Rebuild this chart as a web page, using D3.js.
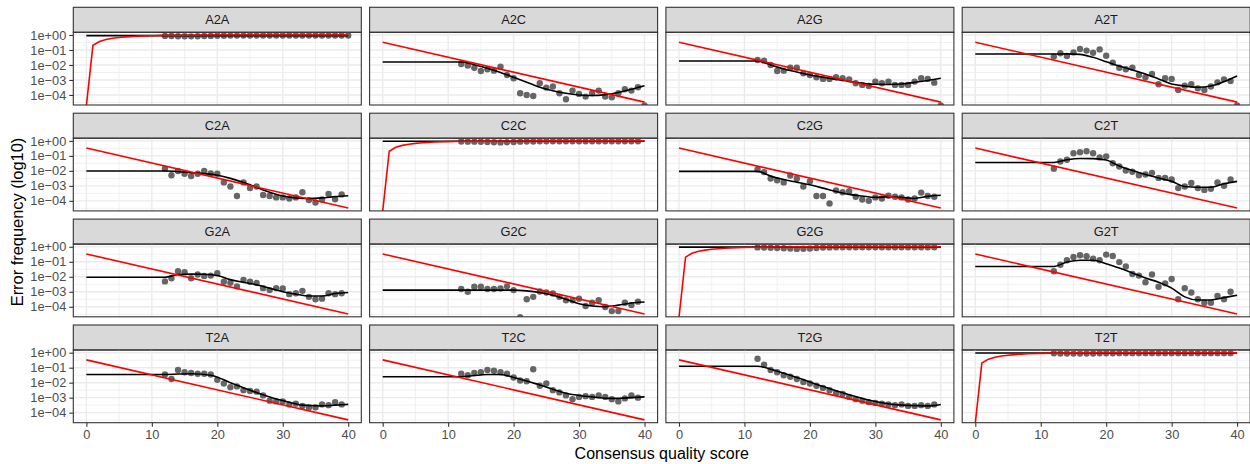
<!DOCTYPE html>
<html>
<head>
<meta charset="utf-8">
<script src="https://cdn.jsdelivr.net/npm/d3@7"></script>
<style>
  body { margin: 0; background: #fff; }
  svg { display: block; font-family: "Liberation Sans", Arial, Helvetica, sans-serif; }
</style>
</head>
<body>
<div id="chart"></div>
<script>
// transitions, in facet order
const panels = ["A2A", "A2C", "A2G", "A2T",
                "C2A", "C2C", "C2G", "C2T",
                "G2A", "G2C", "G2G", "G2T",
                "T2A", "T2C", "T2G", "T2T"];

const firstQ = 12;                       // observed points start at this quality score
const xTicks = [0, 10, 20, 30, 40];
const yTicks = [1, 1e-1, 1e-2, 1e-3, 1e-4];

// all rates below are log10(error frequency); -Infinity means a zero count
// nominal (red) rate implied by the quality score
const nominalOff = [[0, -0.48], [40, -4.48]];
const nominalDiag = [[0, -Infinity], [1, -0.69], [2, -0.43], [3, -0.30], [4, -0.22], [5, -0.165],
                     [6, -0.126], [7, -0.097], [8, -0.075], [10, -0.046], [12, -0.028], [15, -0.014],
                     [20, -0.004], [25, -0.0014], [30, -0.0004], [40, 0]];

// observed (grey points), q = 12, 13, ...
const obsA2A = [-0.06, -0.07, -0.08, -0.08, -0.09, -0.08, -0.07, -0.06, -0.05, -0.05, -0.04, -0.04, -0.04, -0.03, -0.03,
                -0.03, -0.03, -0.03, -0.03, -0.03, -0.03, -0.03, -0.03, -0.03, -0.03, -0.03, -0.03, -0.03, -0.03];
const obsA2C = [-1.93, -2.04, -2.18, -2.40, -2.29, -2.38, -2.11, -2.67, -2.89, -3.89, -4.00, -4.07, -3.22, -3.51, -3.44,
                -3.89, -4.29, -3.71, -3.93, -4.11, -3.89, -3.71, -4.11, -4.16, -3.89, -3.62, -3.71, -3.49, -Infinity];
const obsA2G = [-1.67, -1.71, -2.00, -2.40, -2.38, -2.18, -2.18, -2.56, -2.67, -2.82, -2.93, -2.93, -2.82, -2.89, -2.96,
                -3.22, -3.33, -3.40, -3.11, -3.22, -3.11, -3.33, -3.33, -3.33, -3.11, -2.89, -2.93, -3.18, -Infinity];
const obsA2T = [-1.44, -1.22, -1.40, -1.16, -0.93, -1.04, -1.18, -0.96, -1.38, -1.84, -2.18, -2.29, -2.18, -2.67, -2.82,
                -2.60, -3.29, -2.89, -2.93, -3.67, -3.38, -3.29, -3.56, -3.67, -3.44, -3.16, -2.96, -3.07, -Infinity];
const obsC2A = [-1.85, -2.29, -2.01, -2.19, -2.35, -2.19, -2.01, -2.17, -2.19, -2.77, -3.04, -3.68, -2.77, -3.15, -3.04,
                -3.61, -3.68, -3.77, -3.77, -3.84, -3.77, -3.43, -3.95, -4.11, -3.91, -3.54, -3.89, -3.57];
const obsC2C = [-0.04, -0.05, -0.05, -0.06, -0.07, -0.09, -0.10, -0.09, -0.07, -0.05, -0.04, -0.04, -0.03, -0.03,
                -0.03, -0.03, -0.03, -0.03, -0.03, -0.03, -0.03, -0.03, -0.03, -0.03, -0.03, -0.03, -0.03, -0.03];
const obsC2G = [-1.90, -2.08, -2.51, -2.63, -2.77, -2.31, -2.51, -3.04, -2.70, -3.68, -3.68, -4.18, -3.31, -3.43, -3.36,
                -3.73, -3.91, -4.00, -3.77, -3.84, -3.66, -3.73, -3.77, -3.91, -3.84, -3.45, -3.68, -3.73];
const obsC2T = [-1.85, -1.37, -1.26, -0.82, -0.75, -0.69, -0.82, -1.10, -1.03, -1.49, -1.71, -1.97, -2.06, -2.29, -2.24,
                -2.13, -2.47, -2.47, -2.58, -3.15, -3.04, -2.81, -3.15, -3.27, -3.20, -2.77, -2.99, -2.58];
const obsG2A = [-2.31, -2.10, -1.63, -1.69, -2.10, -1.85, -1.94, -1.92, -1.76, -2.33, -2.40, -2.64, -2.21, -2.33, -2.42,
                -2.76, -2.89, -2.76, -2.78, -3.16, -3.10, -2.94, -3.34, -3.50, -3.46, -3.10, -3.16, -3.10];
const obsG2C = [-2.82, -3.00, -2.67, -2.67, -2.82, -2.82, -2.78, -2.64, -2.89, -Infinity, -3.50, -3.34, -2.98, -3.05, -3.12,
                -3.34, -3.57, -3.57, -3.46, -3.95, -3.73, -3.57, -4.02, -4.29, -4.29, -3.73, -3.89, -3.66];
const obsG2G = [-0.04, -0.05, -0.06, -0.08, -0.10, -0.12, -0.14, -0.13, -0.11, -0.08, -0.05, -0.04, -0.03, -0.03,
                -0.03, -0.03, -0.03, -0.03, -0.03, -0.03, -0.03, -0.03, -0.03, -0.03, -0.03, -0.03, -0.03, -0.03];
const obsG2T = [-1.63, -1.20, -0.90, -0.68, -0.56, -0.63, -0.79, -0.90, -0.52, -0.61, -1.02, -1.31, -1.81, -1.92, -2.37,
                -1.85, -2.67, -2.44, -2.15, -3.50, -2.76, -3.05, -3.50, -3.73, -3.73, -3.28, -3.50, -3.00];
const obsT2A = [-1.45, -1.75, -1.15, -1.30, -1.35, -1.40, -1.40, -1.45, -1.80, -2.05, -2.30, -2.25, -2.50, -2.55, -2.60,
                -2.85, -3.20, -3.25, -3.25, -3.45, -3.40, -3.55, -3.65, -3.65, -3.45, -3.50, -3.30, -3.45];
const obsT2C = [-1.40, -1.50, -1.35, -1.30, -1.15, -1.20, -1.30, -1.40, -1.65, -1.85, -1.90, -1.10, -2.20, -2.05, -2.50,
                -2.65, -2.85, -3.10, -2.95, -2.90, -2.95, -2.85, -2.95, -3.10, -3.25, -3.05, -2.85, -3.00];
const obsT2G = [-0.40, -0.80, -1.15, -1.30, -1.50, -1.60, -1.75, -1.95, -2.05, -2.20, -2.35, -2.50, -2.70, -2.75, -2.95,
                -3.10, -3.20, -3.30, -3.35, -3.40, -3.45, -3.50, -3.45, -3.55, -3.55, -3.50, -3.55, -3.45];
const obsT2T = [-0.04, -0.05, -0.05, -0.06, -0.06, -0.05, -0.05, -0.04, -0.04, -0.04, -0.03, -0.03, -0.03, -0.03,
                -0.03, -0.03, -0.03, -0.03, -0.03, -0.03, -0.03, -0.03, -0.03, -0.03, -0.03, -0.03, -0.03, -0.03];

// fitted (black) rates, [q, log10 rate]
const fitA2A = [[0, -0.04], [40, -0.04]];
const fitA2C = [[0, -1.80], [12, -1.80], [14, -1.98], [16, -2.22], [18, -2.50], [20, -2.82], [22, -3.15], [24, -3.49],
                [26, -3.72], [28, -3.89], [30, -4.00], [32, -4.04], [34, -3.98], [36, -3.84], [38, -3.62], [40, -3.38]];
const fitA2G = [[0, -1.73], [12, -1.73], [14, -2.00], [16, -2.27], [18, -2.47], [20, -2.67], [22, -2.82], [24, -2.96],
                [26, -3.10], [28, -3.22], [30, -3.29], [32, -3.30], [34, -3.27], [36, -3.16], [38, -3.04], [40, -2.89]];
const fitA2T = [[0, -1.27], [12, -1.27], [14, -1.26], [16, -1.29], [18, -1.49], [20, -1.78], [22, -2.07], [24, -2.33],
                [26, -2.60], [28, -2.93], [30, -3.27], [32, -3.40], [34, -3.49], [36, -3.40], [38, -3.11], [40, -2.73]];
const fitC2A = [[0, -2.01], [12, -2.01], [16, -2.12], [20, -2.29], [22, -2.50], [25, -2.93], [27, -3.27], [30, -3.68],
                [32, -3.80], [34, -3.84], [36, -3.80], [38, -3.72], [40, -3.66]];
const fitC2C = [[0, -0.02], [40, -0.02]];
const fitC2G = [[0, -2.03], [12, -2.03], [14, -2.35], [16, -2.58], [18, -2.75], [20, -2.93], [22, -3.15], [24, -3.38],
                [26, -3.57], [28, -3.68], [30, -3.77], [32, -3.73], [34, -3.77], [36, -3.84], [38, -3.70], [40, -3.63]];
const fitC2T = [[0, -1.44], [12, -1.44], [14, -1.26], [16, -1.17], [18, -1.18], [20, -1.28], [22, -1.67], [24, -1.97],
                [26, -2.24], [28, -2.47], [30, -2.70], [32, -3.04], [34, -3.09], [36, -3.09], [38, -2.86], [40, -2.70]];
const fitG2A = [[0, -2.03], [12, -2.03], [14, -1.85], [16, -1.82], [18, -1.83], [20, -1.92], [22, -2.19], [24, -2.37],
                [26, -2.53], [28, -2.76], [30, -3.00], [32, -3.16], [34, -3.28], [36, -3.28], [38, -3.12], [40, -3.05]];
const fitG2C = [[0, -2.89], [20, -2.89], [22, -2.94], [24, -3.05], [26, -3.23], [28, -3.50], [30, -3.80], [32, -3.95],
                [34, -4.00], [36, -3.89], [38, -3.75], [40, -3.68]];
const fitG2G = [[0, -0.02], [40, -0.02]];
const fitG2T = [[0, -1.31], [12, -1.31], [14, -1.02], [16, -0.90], [18, -0.90], [20, -1.13], [22, -1.42], [24, -1.74],
                [26, -2.08], [28, -2.37], [30, -2.76], [32, -3.34], [34, -3.55], [36, -3.55], [38, -3.39], [40, -3.23]];
const fitT2A = [[0, -1.45], [12, -1.45], [16, -1.40], [19, -1.50], [22, -2.00], [25, -2.50], [28, -2.95], [31, -3.30],
                [33, -3.50], [36, -3.55], [38, -3.50], [40, -3.45]];
const fitT2C = [[0, -1.60], [12, -1.60], [16, -1.45], [18, -1.45], [20, -1.65], [24, -2.15], [28, -2.70], [32, -2.95],
                [35, -3.05], [38, -3.00], [40, -2.95]];
const fitT2G = [[0, -0.90], [12, -0.90], [14, -1.10], [18, -1.65], [22, -2.25], [26, -2.80], [30, -3.25], [34, -3.50],
                [38, -3.55], [40, -3.45]];
const fitT2T = [[0, -0.02], [40, -0.02]];

const observed = {A2A: obsA2A, A2C: obsA2C, A2G: obsA2G, A2T: obsA2T, C2A: obsC2A, C2C: obsC2C, C2G: obsC2G, C2T: obsC2T,
                  G2A: obsG2A, G2C: obsG2C, G2G: obsG2G, G2T: obsG2T, T2A: obsT2A, T2C: obsT2C, T2G: obsT2G, T2T: obsT2T};
const fitted = {A2A: fitA2A, A2C: fitA2C, A2G: fitA2G, A2T: fitA2T, C2A: fitC2A, C2C: fitC2C, C2G: fitC2G, C2T: fitC2T,
                G2A: fitG2A, G2C: fitG2C, G2G: fitG2G, G2T: fitG2T, T2A: fitT2A, T2C: fitT2C, T2G: fitT2G, T2T: fitT2T};

// layout
const width = 1250, height = 464;
const marginLeft = 73.3, colStep = 296.3, panelW = 288;
const marginTop = 7.3, rowStep = 105.9, stripH = 25, panelH = 72.7;

const svg = d3.select("#chart").append("svg")
    .attr("width", width)
    .attr("height", height);

const x = d3.scaleLinear().domain([-2, 42]).range([0, panelW]);
const y = d3.scaleLog().domain([10 ** -4.67, 10 ** 0.18]).range([panelH, 0]);
// zero rates sit on the lower panel edge, like -Inf in ggplot
const yPos = v => v === -Infinity ? panelH + 0.5 : y(10 ** v);

const line = d3.line()
    .x(d => x(d[0]))
    .y(d => yPos(d[1]));
const smooth = d3.line()
    .x(d => x(d[0]))
    .y(d => yPos(d[1]))
    .curve(d3.curveMonotoneX);

const fmt = d => {
    const e = Math.round(Math.log10(d));
    return "1e" + (e < 0 ? "\u2212" : "+") + String(Math.abs(e)).padStart(2, "0");
};

const xMinor = [5, 15, 25, 35];
const yMinor = [-0.5, -1.5, -2.5, -3.5, -4.5];

panels.forEach((name, i) => {
    const col = i % 4, row = Math.floor(i / 4);
    const diag = name[0] === name[2];
    const g = svg.append("g")
        .attr("transform", `translate(${marginLeft + col * colStep},${marginTop + row * rowStep + stripH})`);

    // strip
    g.append("rect")
        .attr("y", -stripH)
        .attr("width", panelW)
        .attr("height", stripH)
        .attr("fill", "#D9D9D9")
        .attr("stroke", "#333333")
        .attr("stroke-width", 1.1);
    g.append("text")
        .attr("x", panelW / 2)
        .attr("y", -stripH / 2)
        .attr("dy", "0.36em")
        .attr("text-anchor", "middle")
        .attr("font-size", "12.8px")
        .attr("fill", "#1A1A1A")
        .text(name);

    g.append("clipPath").attr("id", "clip" + i)
        .append("rect").attr("width", panelW).attr("height", panelH);

    // grid
    const grid = g.append("g");
    grid.selectAll(".xmin").data(xMinor).enter().append("line")
        .attr("x1", d => x(d)).attr("x2", d => x(d))
        .attr("y1", 0).attr("y2", panelH)
        .attr("stroke", "#EBEBEB").attr("stroke-width", 0.7);
    grid.selectAll(".ymin").data(yMinor).enter().append("line")
        .attr("x1", 0).attr("x2", panelW)
        .attr("y1", d => yPos(d)).attr("y2", d => yPos(d))
        .attr("stroke", "#EBEBEB").attr("stroke-width", 0.7);
    grid.selectAll(".xmaj").data(xTicks).enter().append("line")
        .attr("x1", d => x(d)).attr("x2", d => x(d))
        .attr("y1", 0).attr("y2", panelH)
        .attr("stroke", "#EBEBEB").attr("stroke-width", 1.4);
    grid.selectAll(".ymaj").data(yTicks).enter().append("line")
        .attr("x1", 0).attr("x2", panelW)
        .attr("y1", d => y(d)).attr("y2", d => y(d))
        .attr("stroke", "#EBEBEB").attr("stroke-width", 1.4);

    const plot = g.append("g").attr("clip-path", `url(#clip${i})`);

    plot.selectAll("circle")
        .data(observed[name])
        .enter()
        .append("circle")
        .attr("cx", (d, k) => x(firstQ + k))
        .attr("cy", d => yPos(d))
        .attr("r", 3.2)
        .attr("fill", "#666666");

    plot.append("path")
        .attr("d", smooth(fitted[name]))
        .attr("fill", "none")
        .attr("stroke", "#000")
        .attr("stroke-width", 1.6);

    plot.append("path")
        .attr("d", line(diag ? nominalDiag : nominalOff))
        .attr("fill", "none")
        .attr("stroke", "#FF0000")
        .attr("stroke-width", 1.6);

    g.append("rect")
        .attr("width", panelW)
        .attr("height", panelH)
        .attr("fill", "none")
        .attr("stroke", "#333333")
        .attr("stroke-width", 1.1);

    if (col === 0) {
        const ay = g.append("g").call(d3.axisLeft(y).tickValues(yTicks).tickFormat(fmt).tickSize(4).tickPadding(3));
        ay.select(".domain").remove();
        ay.selectAll("line").attr("stroke", "#333333").attr("stroke-width", 1.1);
        ay.selectAll("text").attr("font-size", "12.8px").attr("fill", "#4D4D4D")
            .attr("font-family", "'Liberation Sans', Arial, sans-serif");
    }
    if (row === 3) {
        const ax = g.append("g").attr("transform", `translate(0,${panelH})`)
            .call(d3.axisBottom(x).tickValues(xTicks).tickSize(4).tickPadding(3));
        ax.select(".domain").remove();
        ax.selectAll("line").attr("stroke", "#333333").attr("stroke-width", 1.1);
        ax.selectAll("text").attr("font-size", "12.8px").attr("fill", "#4D4D4D")
            .attr("font-family", "'Liberation Sans', Arial, sans-serif");
    }
});

// axis titles
svg.append("text")
    .attr("x", marginLeft + (3 * colStep + panelW) / 2)
    .attr("y", 459)
    .attr("text-anchor", "middle")
    .attr("font-size", "16px")
    .attr("fill", "#000")
    .text("Consensus quality score");

svg.append("text")
    .attr("transform", "translate(23,222) rotate(-90)")
    .attr("text-anchor", "middle")
    .attr("font-size", "16.4px")
    .attr("fill", "#000")
    .text("Error frequency (log10)");
</script>
</body>
</html>
